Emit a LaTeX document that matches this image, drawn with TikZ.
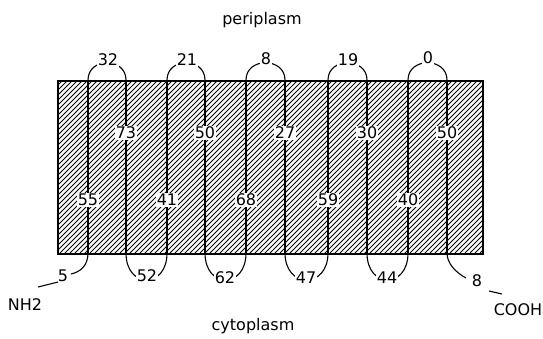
\documentclass[tikz,border=0pt]{standalone}
\usepackage{fontspec}
\setmainfont{DejaVu Sans}
\usetikzlibrary{calc}
\begin{document}
\begin{tikzpicture}[x=1pt,y=-1pt,
  lab/.style={font=\fontsize{16}{19}\selectfont, inner sep=1pt, fill=white},
  txt/.style={font=\fontsize{16}{19}\selectfont, inner sep=0pt},
  helix/.style={line width=1.1pt},
  loopline/.style={line width=1.1pt}]
\useasboundingbox (0,0) rectangle (543,338);
% membrane
\begin{scope}
  \clip (57,80) rectangle (482,253);
  \foreach \i in {-180,-175,...,485} \draw[line width=1pt] (\i,253) -- ++(173,-173);
\end{scope}
\node[draw, line width=1.6pt, minimum width=425pt, minimum height=173pt, inner sep=0pt, anchor=north west] (mem) at (57,80) {};
% helix end points
\foreach \n/\x in {1/88,2/126,3/167,4/205,5/246,6/285,7/328,8/367,9/408,10/447} {
  \coordinate (t\n) at (\x,80);
  \coordinate (b\n) at (\x,253);
}
\foreach \n in {1,...,10} \draw[helix] (t\n) -- (b\n);
% periplasmic loops
\foreach \a/\b in {1/2,3/4,5/6,7/8,9/10}
  \draw[loopline] (t\a) .. controls ($(t\a)+(0,-23)$) and ($(t\b)+(0,-23)$) .. (t\b);
% cytoplasmic loops
\foreach \a/\b in {2/3,4/5,6/7,8/9}
  \draw[loopline] (b\a) .. controls ($(b\a)+(0,36)$) and ($(b\b)+(0,36)$) .. (b\b);
% termini
\coordinate (n1) at (71,274);
\coordinate (c1) at (466,278);
\draw[loopline] (b1) .. controls (88,266) and (80,272) .. (n1);
\draw[loopline] (b10) .. controls (447,263) and (455,272) .. (c1);
\node[lab] (l5) at (63,276) {5};
\node[lab] (l8e) at (477,281) {8};
\node[txt] (nh) at (25,305) {NH2};
\node[txt] (cooh) at (518,310) {COOH};
\coordinate (nl1) at (58,282);
\coordinate (nl2) at (38,287);
\coordinate (cl1) at (489,291);
\coordinate (cl2) at (502,294);
\draw[loopline] (nl1) -- (nl2);
\draw[loopline] (cl1) -- (cl2);
% labels in membrane
\node[lab] (h1) at (88,200) {55};
\node[lab] (h2) at (126,133) {73};
\node[lab] (h3) at (167,200) {41};
\node[lab] (h4) at (205,133) {50};
\node[lab] (h5) at (246,200) {68};
\node[lab] (h6) at (285,133) {27};
\node[lab] (h7) at (328,200) {59};
\node[lab] (h8) at (367,133) {30};
\node[lab] (h9) at (408,200) {40};
\node[lab] (h10) at (447,133) {50};
% loop labels
\node[lab] (p1) at (108,60) {32};
\node[lab] (p2) at (187,60) {21};
\node[lab] (p3) at (266,59) {8};
\node[lab] (p4) at (348,60) {19};
\node[lab] (p5) at (428,58) {0};
\node[lab] (c2) at (147,276) {52};
\node[lab] (c3) at (225,278) {62};
\node[lab] (c4) at (306,278) {47};
\node[lab] (c5) at (387,278) {44};
% compartments
\node[txt] (peri) at (262,20) {periplasm};
\node[txt] (cyto) at (253,326) {cytoplasm};
\end{tikzpicture}
\end{document}
